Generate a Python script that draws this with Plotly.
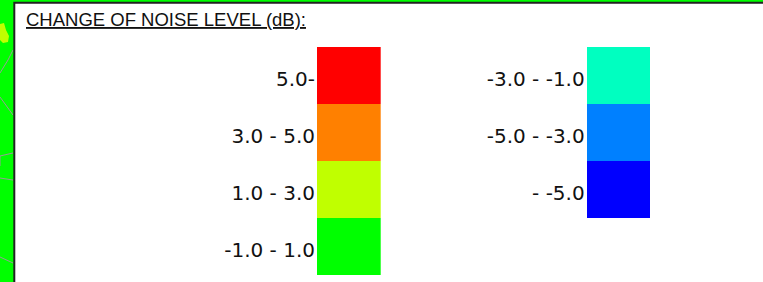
import plotly.graph_objects as go

# Legend classes (change of noise level, dB)
labels_left = ["5.0-", "3.0 - 5.0", "1.0 - 3.0", "-1.0 - 1.0"]
colors_left = ["#ff0000", "#ff8000", "#c0ff00", "#00ff00"]
labels_right = ["-3.0 - -1.0", "-5.0 - -3.0", "- -5.0"]
colors_right = ["#00ffc0", "#0080ff", "#0000ff"]
title_text = "CHANGE OF NOISE LEVEL (dB):"

W, H = 763, 282

def px_x(p):
    return p / W

def px_y(p):
    return 1 - p / H

def path(points):
    s = "M " + " L ".join(f"{px_x(x):.5f},{px_y(y):.5f}" for x, y in points)
    return s

fig = go.Figure()
fig.add_trace(go.Bar(
    y=labels_left, x=[1] * len(labels_left), orientation="h",
    marker=dict(color=colors_left, line=dict(width=0)),
    xaxis="x", yaxis="y", hoverinfo="y", showlegend=False,
))
fig.add_trace(go.Bar(
    y=labels_right, x=[1] * len(labels_right), orientation="h",
    marker=dict(color=colors_right, line=dict(width=0)),
    xaxis="x2", yaxis="y2", hoverinfo="y", showlegend=False,
))

tickfont = dict(family="DejaVu Sans", size=20, color="#111111")
common_y = dict(type="category", range=[3.5, -0.5], showgrid=False, zeroline=False,
                showline=False, ticks="", tickfont=tickfont, fixedrange=True,
                ticklabelshift=-4, ticklabelstandoff=1)
common_x = dict(range=[0, 1], showgrid=False, zeroline=False, showline=False,
                showticklabels=False, ticks="", fixedrange=True)

bg_lines = [
    [(13, 50), (8, 60), (0, 73)],
    [(0, 97), (13, 115)],
    [(13, 153), (0, 156), (0, 166)],
    [(0, 178), (13, 180)],
    [(0, 257), (13, 263)],
]

shapes = [
    dict(type="path", xref="paper", yref="paper", layer="below",
         path=path([(0, 24), (4, 23), (6, 30), (9, 36), (8, 42), (3, 43), (0, 40)]) + " Z",
         fillcolor="#c0ff00", line=dict(width=0)),
]
for ln in bg_lines:
    shapes.append(dict(type="path", xref="paper", yref="paper", layer="below",
                       path=path(ln), line=dict(color="#999999", width=1)))
shapes.append(dict(type="rect", xref="paper", yref="paper", layer="below",
                   x0=px_x(14.3), x1=1.3, y0=-0.3, y1=px_y(2.8),
                   fillcolor="white", line=dict(color="#222222", width=2)))

fig.update_layout(
    width=W, height=H,
    margin=dict(l=0, r=0, t=0, b=0),
    paper_bgcolor="#00ff00",
    plot_bgcolor="rgba(0,0,0,0)",
    bargap=0,
    xaxis=dict(domain=[px_x(317), px_x(380.7)], anchor="y", **common_x),
    yaxis=dict(domain=[px_y(275), px_y(46.7)], anchor="x", **common_y),
    xaxis2=dict(domain=[px_x(586.7), px_x(650)], anchor="y2", **common_x),
    yaxis2=dict(domain=[px_y(275), px_y(46.7)], anchor="x2", **common_y),
    shapes=shapes,
    annotations=[
        dict(text="<u>" + title_text + "</u>", xref="paper", yref="paper",
             x=px_x(24), y=px_y(19.5), xanchor="left", yanchor="middle",
             showarrow=False,
             font=dict(family="Liberation Sans", size=18.5, color="#111111")),
    ],
)

fig.write_html(
    "out.html",
    config={"displayModeBar": False},
    post_script="document.body.style.margin='0';document.body.style.overflow='hidden';",
)
